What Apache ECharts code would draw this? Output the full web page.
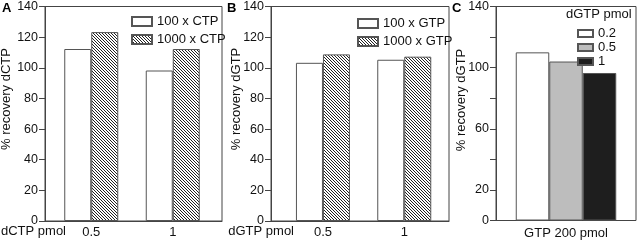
<!DOCTYPE html>
<html>
<head>
<meta charset="utf-8">
<script src="https://cdn.jsdelivr.net/npm/echarts@6/dist/echarts.min.js"></script>
<style>
  html, body { margin: 0; padding: 0; background: #fff; }
  #chart { width: 638px; height: 245px; }
</style>
</head>
<body>
<div id="chart"></div>
<script>
// values
let catsA = ['0.5', '1'];
let ctp100 = [112, 98];
let ctp1000 = [123, 112];

let catsB = ['0.5', '1'];
let gtp100 = [103, 105];
let gtp1000 = [108.5, 107];

let catsC = ['GTP 200 pmol'];
let dgtp02 = [110];
let dgtp05 = [104];
let dgtp1 = [96.5];

let yLabelsAB = [0, 20, 40, 60, 80, 100, 120, 140];
let yLabelsC = [0, 20, 60, 100, 140];

let font = 'Liberation Sans, Arial, sans-serif';
let axisColor = '#444';
let edge = '#555';

function hatch() {
  let c = document.createElement('canvas');
  c.width = 3; c.height = 3;
  let g = c.getContext('2d');
  g.fillStyle = '#fff';
  g.fillRect(0, 0, 3, 3);
  g.fillStyle = '#222';
  for (let i = 0; i < 3; i++) g.fillRect(i, i, 1, 1);
  return c;
}
let hatchFill = { image: hatch(), repeat: 'repeat' };

// frame grid (box + y axis) and bar grid for each panel
let grids = [
  { left: 45, width: 177, top: 6, height: 215, show: true, borderColor: axisColor, borderWidth: 1 },
  { left: 50.5, width: 163, top: 6, height: 215 },
  { left: 271, width: 178, top: 6, height: 215, show: true, borderColor: axisColor, borderWidth: 1 },
  { left: 282.3, width: 162.6, top: 6, height: 215 },
  { left: 496, width: 140, top: 6, height: 214.5, show: true, borderColor: axisColor, borderWidth: 1 }
];

function frameY(gi, labels) {
  return {
    gridIndex: gi, type: 'value', min: 0, max: 140, interval: 20,
    axisLine: { show: true, lineStyle: { color: axisColor } },
    axisTick: { show: true, length: 6, lineStyle: { color: axisColor } },
    splitLine: { show: false },
    axisLabel: {
      margin: 7, color: '#111', fontFamily: font, fontSize: 12.5,
      formatter: v => labels.includes(v) ? String(v) : ''
    }
  };
}
function hiddenY(gi) {
  return { gridIndex: gi, type: 'value', min: 0, max: 140, show: false };
}
function frameX(gi) {
  return {
    gridIndex: gi, type: 'category', data: ['x'],
    axisLine: { show: true, lineStyle: { color: axisColor } },
    axisTick: { show: false }, axisLabel: { show: false }
  };
}
function barX(gi, cats, margin) {
  return {
    gridIndex: gi, type: 'category', data: cats,
    axisLine: { show: false }, axisTick: { show: false },
    axisLabel: { margin: margin, color: '#111', fontFamily: font, fontSize: 13 }
  };
}

function bar(name, xi, data, color, width) {
  return {
    name: name, type: 'bar', xAxisIndex: xi, yAxisIndex: xi, data: data,
    barWidth: width, barGap: '0%', silent: true,
    itemStyle: { color: color, borderColor: edge, borderWidth: 1 }
  };
}

let legendText = { fontFamily: font, fontSize: 13, color: '#111' };

let option = {
  animation: false,
  grid: grids,
  xAxis: [frameX(0), barX(1, catsA, 5), frameX(2), barX(3, catsB, 5), barX(4, catsC, 6)],
  yAxis: [frameY(0, yLabelsAB), hiddenY(1), frameY(2, yLabelsAB), hiddenY(3), frameY(4, yLabelsC)],
  legend: [
    {
      data: ['100 x CTP', '1000 x CTP'], orient: 'vertical', left: 126, top: 10,
      icon: 'rect', itemWidth: 20, itemHeight: 9, itemGap: 5, selectedMode: false,
      textStyle: Object.assign({ width: 66, align: 'right' }, legendText)
    },
    {
      data: ['100 x GTP', '1000 x GTP'], orient: 'vertical', left: 352, top: 12,
      icon: 'rect', itemWidth: 20, itemHeight: 9, itemGap: 5, selectedMode: false,
      textStyle: Object.assign({ width: 68, align: 'right' }, legendText)
    },
    {
      data: ['0.2', '0.5', '1'], orient: 'vertical', left: 572, top: 22,
      icon: 'rect', itemWidth: 15, itemHeight: 7, itemGap: 1, selectedMode: false,
      textStyle: Object.assign({ lineHeight: 11 }, legendText)
    }
  ],
  series: [
    bar('100 x CTP', 1, ctp100, '#fff', 27),
    bar('1000 x CTP', 1, ctp1000, hatchFill, 27),
    bar('100 x GTP', 3, gtp100, '#fff', 27),
    bar('1000 x GTP', 3, gtp1000, hatchFill, 27),
    bar('0.2', 4, dgtp02, '#fff', 33.5),
    bar('0.5', 4, dgtp05, '#bdbdbd', 33.5),
    bar('1', 4, dgtp1, '#1e1e1e', 33.5)
  ],
  graphic: [
    { type: 'text', left: 2, top: 2, style: { text: 'A', font: 'bold 13px ' + font, fill: '#000' } },
    { type: 'text', left: 227, top: 2, style: { text: 'B', font: 'bold 13px ' + font, fill: '#000' } },
    { type: 'text', left: 452, top: 2, style: { text: 'C', font: 'bold 13px ' + font, fill: '#000' } },
    { type: 'text', x: 6, y: 99, rotation: Math.PI / 2,
      style: { text: '% recovery dCTP', font: '13px ' + font, fill: '#111', align: 'center', verticalAlign: 'middle' } },
    { type: 'text', x: 236, y: 99, rotation: Math.PI / 2,
      style: { text: '% recovery dGTP', font: '13px ' + font, fill: '#111', align: 'center', verticalAlign: 'middle' } },
    { type: 'text', x: 461, y: 100, rotation: Math.PI / 2,
      style: { text: '% recovery dGTP', font: '13px ' + font, fill: '#111', align: 'center', verticalAlign: 'middle' } },
    { type: 'text', x: 66, y: 231,
      style: { text: 'dCTP pmol', font: '13px ' + font, fill: '#111', align: 'right', verticalAlign: 'middle' } },
    { type: 'text', x: 294, y: 231,
      style: { text: 'dGTP pmol', font: '13px ' + font, fill: '#111', align: 'right', verticalAlign: 'middle' } },
    { type: 'text', x: 566, y: 14,
      style: { text: 'dGTP pmol', font: '13px ' + font, fill: '#111', align: 'left', verticalAlign: 'middle' } }
  ]
};

let chart = echarts.init(document.getElementById('chart'));
chart.setOption(option);
</script>
</body>
</html>
